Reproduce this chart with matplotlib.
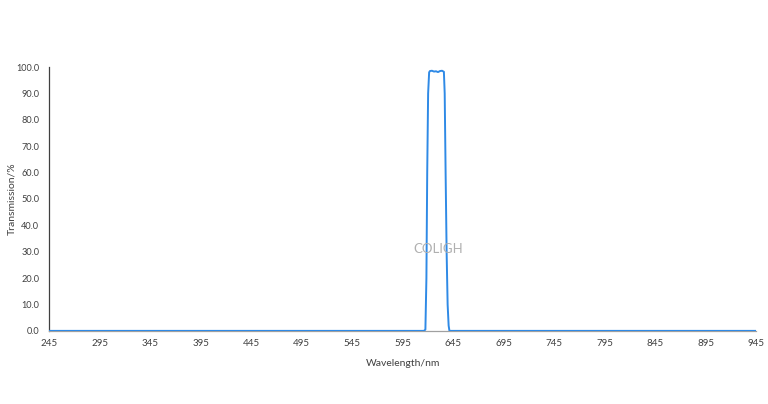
import matplotlib
matplotlib.use('Agg')
from matplotlib import pyplot as plt
import numpy as np

# 波长 (nm) 与透过率 (%)
wavelength = [245, 600, 616, 617.5, 618.5, 619.3, 620.2, 621.2, 622, 624, 626,
              628, 630, 632, 634, 635.8, 636.6, 637.5, 638.5, 639.5, 640.5, 641.3, 660, 955]
transmission = [0, 0, 0, 0.5, 20, 60, 90, 98.0, 98.5, 98.6, 98.3,
                98.4, 98.1, 98.5, 98.6, 98.2, 90, 60, 30, 10, 2, 0, 0, 0]

x_ticks = list(range(245, 946, 50))
y_ticks = np.arange(0, 101, 10)

plt.rcParams['font.family'] = ['Lato', 'DejaVu Sans']

fig = plt.figure(figsize=(7.68, 4.04), dpi=100)
ax = fig.add_axes([0.0638, 0.181, 0.921, 0.653])

ax.plot(wavelength, transmission, '-', color="#2f8ae6", linewidth=1.4, zorder=3)

ax.set_xlim(245, 945)
ax.set_ylim(0, 100)
ax.set_xticks(x_ticks)
ax.set_xticklabels([str(v) for v in x_ticks], fontsize=7, color="#404040")
ax.set_yticks(y_ticks)
ax.set_yticklabels(['%.1f' % v for v in y_ticks], fontsize=6.6, color="#404040")
ax.tick_params(axis='x', length=0, pad=6)
ax.tick_params(axis='y', length=0, pad=7)

for s in ['top', 'right']:
    ax.spines[s].set_visible(False)
ax.spines['left'].set_color("#404040")
ax.spines['left'].set_linewidth(0.9)
ax.spines['bottom'].set_color("#a0a0a0")
ax.spines['bottom'].set_linewidth(0.9)

ax.set_xlabel("Wavelength/nm", fontsize=7.5, color="#404040")
ax.set_ylabel("Transmission/%", fontsize=7.5, color="#404040")
ax.xaxis.set_label_coords(0.5, -0.105)
ax.yaxis.set_label_coords(-0.046, 0.5)

# 水印
ax.text(630, 31, "COLIGH", ha='center', va='center', fontsize=9.5, color="#b0b0b0", zorder=4)

fig.savefig("out.png", dpi=100)
